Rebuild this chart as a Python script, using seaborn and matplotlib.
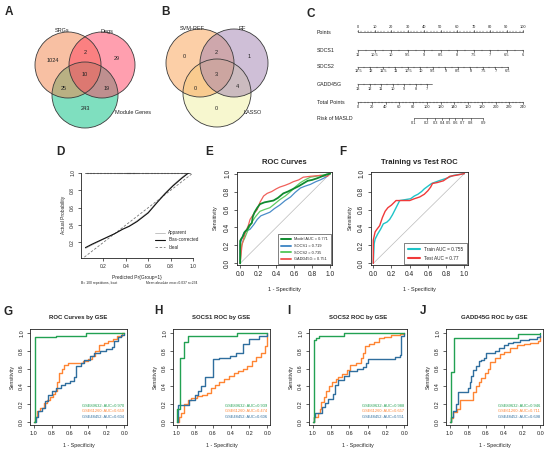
import numpy as np
import pandas as pd
import matplotlib
matplotlib.use("Agg")
import matplotlib.pyplot as plt
import seaborn as sns
from matplotlib.patches import Circle
from matplotlib.lines import Line2D

sns.set_style("ticks")
plt.rcParams['font.family'] = ['Liberation Sans', 'DejaVu Sans']

# ------------------------------------------------------------------ data
venn_a_sets = ['SRGs', 'Degs', 'Module Genes']
# regions: only1, only2, only3, 1&2, 1&3, 2&3, 1&2&3
venn_a_counts = [1024, 29, 243, 2, 25, 19, 10]
venn_b_sets = ['SVM-REF', 'RF', 'LASSO']
venn_b_counts = [0, 1, 0, 2, 0, 4, 3]

nomo_rows = ['Points', 'SOCS1', 'SOCS2', 'GADD45G', 'Total Points', 'Risk of MASLD']
points_ticks = [0, 10, 20, 30, 40, 50, 60, 70, 80, 90, 100]
socs1_ticks = [11, 10.5, 10, 9.5, 9, 8.5, 8, 7.5, 7, 6.5, 6]
socs1_pts_per_unit = 20.0
socs2_ticks = [12.5, 12, 11.5, 11, 10.5, 10, 9.5, 9, 8.5, 8, 7.5, 7, 6.5]
socs2_pts_per_unit = 15.15
gadd45g_ticks = [13, 12, 11, 10, 9, 8, 7]
gadd45g_end = 6.6
gadd45g_pts_per_unit = 6.97
total_ticks = [0, 20, 40, 60, 80, 100, 120, 140, 160, 180, 200, 220, 240]
risk_ticks = [0.1, 0.2, 0.3, 0.4, 0.5, 0.6, 0.7, 0.8, 0.9]
risk_intercept = -5.74
risk_slope = 0.0435

cal_pred = [0.04, 0.10, 0.20, 0.30, 0.37, 0.43, 0.50, 0.60, 0.68, 0.75, 0.82, 0.90, 0.97]
cal_bias = [0.14, 0.18, 0.24, 0.30, 0.35, 0.385, 0.44, 0.54, 0.66, 0.76, 0.85, 0.94, 1.01]
cal_apparent = [0.13, 0.17, 0.235, 0.30, 0.355, 0.39, 0.45, 0.55, 0.67, 0.77, 0.86, 0.95, 1.02]
cal_rug = [0.06, 0.09, 0.12, 0.15, 0.18, 0.21, 0.24, 0.27, 0.30, 0.33, 0.35, 0.37, 0.39, 0.41,
           0.42, 0.43, 0.44, 0.45, 0.46, 0.47, 0.48, 0.50, 0.52, 0.55, 0.58, 0.60, 0.63, 0.66,
           0.69, 0.72, 0.75, 0.78, 0.81, 0.84, 0.87, 0.90, 0.93]

# E: ROC curves (x = 1 - specificity, y = sensitivity)
e_model_x = [0, 0, 0.01, 0.03, 0.05, 0.08, 0.10, 0.13, 0.14, 0.16, 0.19, 0.22, 0.27, 0.32, 0.37, 0.42,
             0.48, 0.53, 0.59, 0.65, 0.70, 0.75, 0.80, 0.86, 0.91, 0.96, 1.0]
e_model_y = [0, 0.25, 0.27, 0.30, 0.35, 0.38, 0.42, 0.45, 0.52, 0.57, 0.62, 0.66, 0.68, 0.69, 0.70, 0.73,
             0.78, 0.80, 0.83, 0.86, 0.89, 0.92, 0.93, 0.95, 0.97, 0.99, 1.0]
e_socs1_x = [0, 0, 0.02, 0.04, 0.07, 0.11, 0.15, 0.19, 0.23, 0.28, 0.33, 0.38, 0.44, 0.50, 0.56, 0.61,
             0.67, 0.72, 0.78, 0.84, 0.89, 0.95, 1.0]
e_socs1_y = [0, 0.21, 0.28, 0.34, 0.36, 0.38, 0.43, 0.49, 0.53, 0.55, 0.57, 0.61, 0.65, 0.70, 0.74, 0.79,
             0.84, 0.86, 0.88, 0.91, 0.93, 0.96, 1.0]
e_socs2_x = [0, 0.01, 0.02, 0.05, 0.07, 0.10, 0.13, 0.17, 0.22, 0.27, 0.33, 0.38, 0.44, 0.50, 0.56, 0.61,
             0.67, 0.72, 0.78, 0.84, 0.89, 0.95, 1.0]
e_socs2_y = [0, 0.15, 0.22, 0.28, 0.33, 0.40, 0.46, 0.52, 0.58, 0.60, 0.62, 0.66, 0.71, 0.75, 0.80, 0.85,
             0.90, 0.93, 0.96, 0.97, 0.98, 0.99, 1.0]
e_gadd_x = [0, 0.01, 0.02, 0.04, 0.06, 0.09, 0.11, 0.15, 0.19, 0.22, 0.26, 0.30, 0.35, 0.40, 0.44, 0.50,
            0.55, 0.59, 0.65, 0.70, 0.78, 0.89, 0.97, 1.0]
e_gadd_y = [0, 0.10, 0.20, 0.28, 0.35, 0.42, 0.49, 0.55, 0.60, 0.68, 0.75, 0.78, 0.80, 0.83, 0.85, 0.87,
            0.89, 0.91, 0.93, 0.96, 0.97, 0.98, 0.97, 1.0]
e_labels = ['Model AUC = 0.771', 'SOCS1 = 0.719', 'SOCS2 = 0.735', 'GADD45G = 0.751']

f_train_x = [0, 0.01, 0.02, 0.05, 0.08, 0.11, 0.15, 0.18, 0.21, 0.23, 0.26, 0.29, 0.35, 0.41, 0.45, 0.49,
             0.53, 0.56, 0.60, 0.64, 0.72, 0.81, 0.88, 0.94, 1.0]
f_train_y = [0, 0.22, 0.27, 0.33, 0.38, 0.44, 0.46, 0.49, 0.54, 0.58, 0.64, 0.70, 0.71, 0.72, 0.75, 0.77,
             0.80, 0.83, 0.86, 0.89, 0.92, 0.95, 0.98, 0.99, 1.0]
f_test_x = [0, 0, 0.02, 0.04, 0.07, 0.10, 0.13, 0.16, 0.20, 0.25, 0.30, 0.35, 0.40, 0.45, 0.51, 0.56,
            0.60, 0.63, 0.65, 0.70, 0.77, 0.84, 0.90, 1.0]
f_test_y = [0, 0.26, 0.35, 0.38, 0.42, 0.51, 0.58, 0.62, 0.65, 0.70, 0.70, 0.70, 0.70, 0.72, 0.74, 0.77,
            0.81, 0.85, 0.89, 0.90, 0.92, 0.97, 0.98, 1.0]
f_labels = ['Train AUC = 0.755', 'Test AUC = 0.77']

# G-J: ROC by GSE (x = specificity, reversed axis; steps)
gse_names = ['GSE89632', 'GSE61260', 'GSE48452']
g_spec = [[1.0, 0.98, 0.75, 0.42, 0.0],
          [1.0, 0.98, 0.96, 0.93, 0.89, 0.85, 0.82, 0.79, 0.76, 0.74, 0.72, 0.69, 0.66, 0.62, 0.51, 0.45,
           0.40, 0.36, 0.32, 0.28, 0.22, 0.18, 0.12, 0.08, 0.03, 0.0],
          [1.0, 0.97, 0.95, 0.91, 0.88, 0.84, 0.80, 0.75, 0.70, 0.65, 0.60, 0.55, 0.53, 0.48, 0.44, 0.38,
           0.33, 0.27, 0.20, 0.14, 0.11, 0.07, 0.04, 0.0]]
g_sens = [[0, 0.95, 0.97, 1.0, 1.0],
          [0, 0.06, 0.12, 0.16, 0.21, 0.25, 0.28, 0.31, 0.35, 0.45, 0.55, 0.60, 0.64, 0.66, 0.66, 0.68,
           0.71, 0.74, 0.80, 0.87, 0.89, 0.91, 0.93, 0.97, 1.0, 1.0],
          [0, 0.05, 0.12, 0.16, 0.24, 0.30, 0.35, 0.38, 0.42, 0.44, 0.46, 0.50, 0.63, 0.66, 0.70, 0.74,
           0.77, 0.80, 0.82, 0.84, 0.91, 0.95, 0.98, 1.0]]
g_auc = [0.970, 0.659, 0.604]

h_spec = [[1.0, 1.0, 0.96, 0.92, 0.88, 0.33, 0.0],
          [1.0, 0.97, 0.95, 0.92, 0.88, 0.84, 0.78, 0.72, 0.66, 0.62, 0.58, 0.53, 0.48, 0.42, 0.37, 0.32,
           0.27, 0.22, 0.17, 0.12, 0.07, 0.03, 0.0],
          [1.0, 0.98, 0.88, 0.86, 0.80, 0.76, 0.73, 0.69, 0.60, 0.53, 0.41, 0.35, 0.27, 0.20, 0.09, 0.0]]
h_sens = [[0, 0.15, 0.72, 0.90, 0.97, 1.0, 1.0],
          [0, 0.05, 0.10, 0.20, 0.25, 0.27, 0.29, 0.30, 0.32, 0.38, 0.42, 0.45, 0.48, 0.52, 0.55, 0.57,
           0.60, 0.63, 0.68, 0.73, 0.78, 0.85, 1.0],
          [0, 0.19, 0.19, 0.25, 0.30, 0.35, 0.40, 0.51, 0.71, 0.72, 0.74, 0.78, 0.88, 0.93, 0.97, 1.0]]
h_auc = [0.939, 0.474, 0.606]

i_spec = [[1.0, 0.99, 0.96, 0.93, 0.66, 0.0],
          [1.0, 0.98, 0.94, 0.92, 0.91, 0.88, 0.85, 0.82, 0.79, 0.75, 0.72, 0.68, 0.63, 0.59, 0.53, 0.47,
           0.45, 0.43, 0.38, 0.33, 0.28, 0.22, 0.15, 0.05, 0.0],
          [1.0, 0.98, 0.97, 0.93, 0.90, 0.86, 0.83, 0.78, 0.76, 0.72, 0.66, 0.60, 0.52, 0.45, 0.42, 0.40,
           0.20, 0.10, 0.05, 0.04, 0.0]]
i_sens = [[0, 0.92, 0.94, 0.97, 1.0, 1.0],
          [0, 0.05, 0.10, 0.14, 0.22, 0.28, 0.35, 0.40, 0.45, 0.48, 0.51, 0.54, 0.58, 0.64, 0.66, 0.72,
           0.78, 0.85, 0.88, 0.90, 0.94, 0.96, 0.98, 0.99, 1.0],
          [0, 0.05, 0.10, 0.10, 0.17, 0.21, 0.26, 0.31, 0.42, 0.47, 0.52, 0.57, 0.60, 0.62, 0.66, 0.71,
           0.71, 0.73, 0.75, 0.97, 1.0]]
i_auc = [0.988, 0.657, 0.551]

j_spec = [[1.0, 0.99, 0.95, 0.25, 0.0],
          [1.0, 0.98, 0.96, 0.92, 0.89, 0.76, 0.74, 0.71, 0.68, 0.65, 0.61, 0.58, 0.55, 0.50, 0.44, 0.40,
           0.33, 0.26, 0.18, 0.11, 0.03, 0.0],
          [1.0, 0.98, 0.96, 0.93, 0.91, 0.83, 0.80, 0.78, 0.76, 0.74, 0.71, 0.68, 0.65, 0.62, 0.60, 0.53,
           0.50, 0.45, 0.40, 0.36, 0.30, 0.22, 0.12, 0.04, 0.0]]
j_sens = [[0, 0.56, 0.94, 0.99, 1.0],
          [0, 0.04, 0.11, 0.14, 0.25, 0.25, 0.34, 0.40, 0.45, 0.49, 0.55, 0.60, 0.67, 0.72, 0.76, 0.79,
           0.83, 0.86, 0.88, 0.89, 0.91, 0.97],
          [0, 0.05, 0.12, 0.20, 0.34, 0.34, 0.38, 0.45, 0.52, 0.58, 0.63, 0.68, 0.70, 0.72, 0.78, 0.78,
           0.80, 0.83, 0.87, 0.89, 0.90, 0.92, 0.93, 0.95, 0.98]]
j_auc = [0.946, 0.711, 0.698]

# ------------------------------------------------------------------ layout helpers
W, H = 550, 453
fig = plt.figure(figsize=(5.5, 4.53), dpi=100)


def ax_px(l, r, t, b):
    return fig.add_axes([l / W, 1 - b / H, (r - l) / W, (b - t) / H])


def ptext(x, y, s, **kw):
    fig.text(x / W, 1 - y / H, s, **kw)


def r_axes(ax, xlim, ylim, xt, yt, fs, box=True):
    ax.set_xlim(*xlim)
    ax.set_ylim(*ylim)
    ax.set_xticks(xt)
    ax.set_xticklabels([f"{v:.1f}" for v in xt], fontsize=fs)
    ax.set_yticks(yt)
    ax.set_yticklabels([f"{v:.1f}" for v in yt], fontsize=fs, rotation=90, va='center')
    ax.tick_params(length=2.2, width=0.5, pad=2, colors='#222222')
    for name, s in ax.spines.items():
        s.set_linewidth(0.6)
        s.set_color('#222222')
        if not box and name in ('top', 'right'):
            s.set_visible(False)
    ax.set_facecolor('white')


def line(ax, x, y, color, lw, ls='-', drawstyle='default'):
    sns.lineplot(x=x, y=y, ax=ax, color=color, lw=lw, linestyle=ls, sort=False,
                 estimator=None, legend=False, drawstyle=drawstyle)


# background axes in pixel coordinates for Venns / nomogram
bg = fig.add_axes([0, 0, 1, 1])
bg.set_xlim(0, W)
bg.set_ylim(H, 0)
bg.axis('off')

letters = [('A', 9, 12), ('B', 166, 12), ('C', 311, 14), ('D', 60, 152), ('E', 209, 152),
           ('F', 343, 152), ('G', 8, 312), ('H', 158, 311), ('I', 289, 311), ('J', 423, 311)]
for s, x, y in letters:
    ptext(x, y, s, fontsize=8.5, fontweight='bold', ha='center', va='center')


# ------------------------------------------------------------------ Venns
def venn(centers, r, colors, order, set_labels, label_pos, counts, count_pos, label_ha):
    for i in order:
        bg.add_patch(Circle(centers[i], r, fc=colors[i], alpha=0.5, ec='none'))
    for i in range(3):
        bg.add_patch(Circle(centers[i], r, fill=False, ec='#3a3a3a', lw=0.6))
    for s, (x, y), ha in zip(set_labels, label_pos, label_ha):
        bg.text(x, y, s, fontsize=4, ha=ha, va='center', color='#222222')
    for c, (x, y) in zip(counts, count_pos):
        bg.text(x, y, str(c), fontsize=4, ha='center', va='center', color='#222222')


venn([(68, 65), (102, 65), (85, 95)], 33, ['#F38349', '#FF4161', '#00C181'], [2, 0, 1],
     venn_a_sets, [(62, 31), (107, 31), (115, 113)], venn_a_counts,
     [(53, 60), (117, 59), (85, 108), (85, 53), (64, 88), (107, 88), (85, 75)],
     ['center', 'center', 'left'])
venn([(200, 63), (234, 63), (217, 93)], 34, ['#FBA151', '#A181B1', '#F1F1A1'], [2, 0, 1],
     venn_b_sets, [(192, 28), (242, 28), (244, 113)], venn_b_counts,
     [(184, 57), (249, 57), (216, 108), (216, 53), (195, 88), (237, 87), (216, 74)],
     ['center', 'center', 'left'])

# ------------------------------------------------------------------ Nomogram (C)
x0, xw = 358, 165.0
row_y = [32, 50, 67, 84, 102, 118]
lc = '#333333'
for name, y in zip(nomo_rows, row_y):
    bg.text(317, y, name, fontsize=3.8, ha='left', va='center', color='#222222')


def nomo_axis(y, pos_pts, labels, minor_pts=None, above=False, end_pts=None):
    px = [x0 + xw * p / 100 for p in pos_pts]
    xmax = px[-1] if end_pts is None else x0 + xw * end_pts / 100
    bg.plot([px[0], xmax], [y, y], color=lc, lw=0.45)
    d = -1.6 if above else 1.6
    for p in px:
        bg.plot([p, p], [y, y + d], color=lc, lw=0.45)
    if minor_pts is not None:
        for p in minor_pts:
            xx = x0 + xw * p / 100
            bg.plot([xx, xx], [y, y + d * 0.6], color=lc, lw=0.35)
    for p, lab in zip(px, labels):
        bg.text(p, y + (-4.5 if above else 4.5), lab, fontsize=2.8, ha='center', va='center',
                color='#222222')


def fmt(v):
    return f"{v:g}"


nomo_axis(row_y[0], points_ticks, [fmt(v) for v in points_ticks],
          minor_pts=list(range(0, 101, 2)), above=True)
nomo_axis(row_y[1], [(11 - v) * socs1_pts_per_unit for v in socs1_ticks], [fmt(v) for v in socs1_ticks],
          minor_pts=[(11 - v) * socs1_pts_per_unit for v in np.arange(11, 5.99, -0.25)])
nomo_axis(row_y[2], [(12.5 - v) * socs2_pts_per_unit for v in socs2_ticks], [fmt(v) for v in socs2_ticks],
          minor_pts=[(12.5 - v) * socs2_pts_per_unit for v in np.arange(12.5, 6.49, -0.25)])
nomo_axis(row_y[3], [(13 - v) * gadd45g_pts_per_unit for v in gadd45g_ticks], [fmt(v) for v in gadd45g_ticks],
          minor_pts=[(13 - v) * gadd45g_pts_per_unit for v in np.arange(13, gadd45g_end, -0.5)],
          end_pts=(13 - gadd45g_end) * gadd45g_pts_per_unit)
nomo_axis(row_y[4], [t * 100 / 240 for t in total_ticks], [fmt(v) for v in total_ticks],
          minor_pts=[t * 100 / 240 for t in range(0, 241, 5)])
risk_pts = [((np.log(p / (1 - p)) - risk_intercept) / risk_slope) * 100 / 240 for p in risk_ticks]
nomo_axis(row_y[5], risk_pts, [fmt(v) for v in risk_ticks])

# ------------------------------------------------------------------ D calibration
axD = ax_px(81, 193, 173, 258)
r_axes(axD, (0.0, 1.0), (0.02, 1.0), [0.2, 0.4, 0.6, 0.8, 1.0], [0.2, 0.4, 0.6, 0.8, 1.0], 3.5, box=False)
line(axD, [0.03, 1], [0.03, 1], '#777777', 0.6, ls=(0, (3, 2)))
line(axD, cal_pred, cal_apparent, '#AAAAAA', 0.5)
line(axD, cal_pred, cal_bias, '#111111', 0.8)
for r in cal_rug:
    axD.plot([r, r], [1.0, 0.985], color='#222222', lw=0.35, clip_on=False)
axD.plot([0.04, 0.97], [1.0, 1.0], color='#222222', lw=0.5, clip_on=False)
hd = [Line2D([], [], color='#AAAAAA', lw=0.5), Line2D([], [], color='#111111', lw=0.8),
      Line2D([], [], color='#777777', lw=0.6, ls=(0, (3, 2)))]
axD.legend(hd, ['Apparent', 'Bias-corrected', 'Ideal'], loc='lower right', fontsize=3.3,
           frameon=False, handlelength=2.2, labelspacing=0.5, borderaxespad=0.3,
           bbox_to_anchor=(1.08, 0.06))
ptext(137, 277, 'Predicted Pr{Group=1}', fontsize=3.5, ha='center', va='center')
ptext(63, 215, 'Actual Probability', fontsize=3.5, ha='center', va='center', rotation=90)
ptext(81, 283, 'B= 100 repetitions, boot', fontsize=2.4, ha='left', va='center')
ptext(146, 283, 'Mean absolute error=0.037 n=234', fontsize=2.4, ha='left', va='center')

# ------------------------------------------------------------------ E
axE = ax_px(237, 332, 172, 265)
ticks = [0.0, 0.2, 0.4, 0.6, 0.8, 1.0]
r_axes(axE, (-0.035, 1.02), (-0.018, 1.018), ticks, ticks, 4.8)
line(axE, [0, 1], [0, 1], '#BBBBBB', 0.5)
e_cols = ['#0F8A2F', '#4A8CC8', '#5ECB62', '#F0605A']
for xs, ys, c, lw in [(e_socs1_x, e_socs1_y, e_cols[1], 0.9), (e_socs2_x, e_socs2_y, e_cols[2], 0.9),
                      (e_gadd_x, e_gadd_y, e_cols[3], 0.9), (e_model_x, e_model_y, e_cols[0], 1.3)]:
    line(axE, xs, ys, c, lw)
leg = axE.legend([Line2D([], [], color=c, lw=1.4) for c in e_cols], e_labels, loc='lower right',
                 fontsize=2.8, frameon=True, fancybox=False, edgecolor='#222222', framealpha=1,
                 handlelength=2.6, labelspacing=0.7, borderpad=0.7, borderaxespad=0.25)
leg.get_frame().set_linewidth(0.4)
ptext(284.5, 163, 'ROC Curves', fontsize=5.5, fontweight='bold', ha='center', va='center')
ptext(284.5, 290, '1 - Specificity', fontsize=4, ha='center', va='center')
ptext(215, 218, 'Sensitivity', fontsize=4, ha='center', va='center', rotation=90)

# ------------------------------------------------------------------ F
axF = ax_px(371, 468, 172, 265)
r_axes(axF, (-0.025, 1.04), (-0.018, 1.018), ticks, ticks, 4.8)
line(axF, [0, 1], [0, 1], '#BBBBBB', 0.5)
f_cols = ['#1FC4C8', '#F03A3A']
line(axF, f_train_x, f_train_y, f_cols[0], 1.0)
line(axF, f_test_x, f_test_y, f_cols[1], 1.0)
leg = axF.legend([Line2D([], [], color=c, lw=1.5) for c in f_cols], f_labels, loc='lower right',
                 fontsize=3.4, frameon=True, fancybox=False, edgecolor='#222222', framealpha=1,
                 handlelength=2.6, labelspacing=0.8, borderpad=0.8, borderaxespad=0.15)
leg.get_frame().set_linewidth(0.4)
ptext(419.5, 163, 'Training vs Test ROC', fontsize=5.5, fontweight='bold', ha='center', va='center')
ptext(419.5, 290, '1 - Specificity', fontsize=4, ha='center', va='center')
ptext(350, 218, 'Sensitivity', fontsize=4, ha='center', va='center', rotation=90)

# ------------------------------------------------------------------ G-J
gse_cols = ['#22A152', '#FF8533', '#2F6E9E']
panels = [('ROC Curves by GSE', 30, 127, g_spec, g_sens, g_auc),
          ('SOCS1 ROC by GSE', 173, 270, h_spec, h_sens, h_auc),
          ('SOCS2 ROC by GSE', 309, 407, i_spec, i_sens, i_auc),
          ('GADD45G ROC by GSE', 446, 543, j_spec, j_sens, j_auc)]
bt = [1.0, 0.8, 0.6, 0.4, 0.2, 0.0]
for title, l, r, specs, senss, aucs in panels:
    ax = ax_px(l, r, 329, 425)
    r_axes(ax, (1.04, -0.03), (-0.035, 1.045), bt, [0.0, 0.2, 0.4, 0.6, 0.8, 1.0], 4)
    for k in (1, 2, 0):
        line(ax, specs[k], senss[k], gse_cols[k], 1.0, drawstyle='steps-post')
    for k in range(3):
        ax.text(0.97, 0.20 - 0.058 * k, f"{gse_names[k]}: AUC={aucs[k]:.3f}", transform=ax.transAxes,
                fontsize=2.9, color=gse_cols[k], ha='right', va='center')
    cx = (l + r) / 2
    ptext(cx, 317, title, fontsize=4.3, fontweight='bold', ha='center', va='center')
    ptext(cx, 446, '1 - Specificity', fontsize=3.8, ha='center', va='center')
    ptext(l - 18, 377, 'Sensitivity', fontsize=3.8, ha='center', va='center', rotation=90)

fig.savefig('out.png', dpi=100, facecolor='white')
